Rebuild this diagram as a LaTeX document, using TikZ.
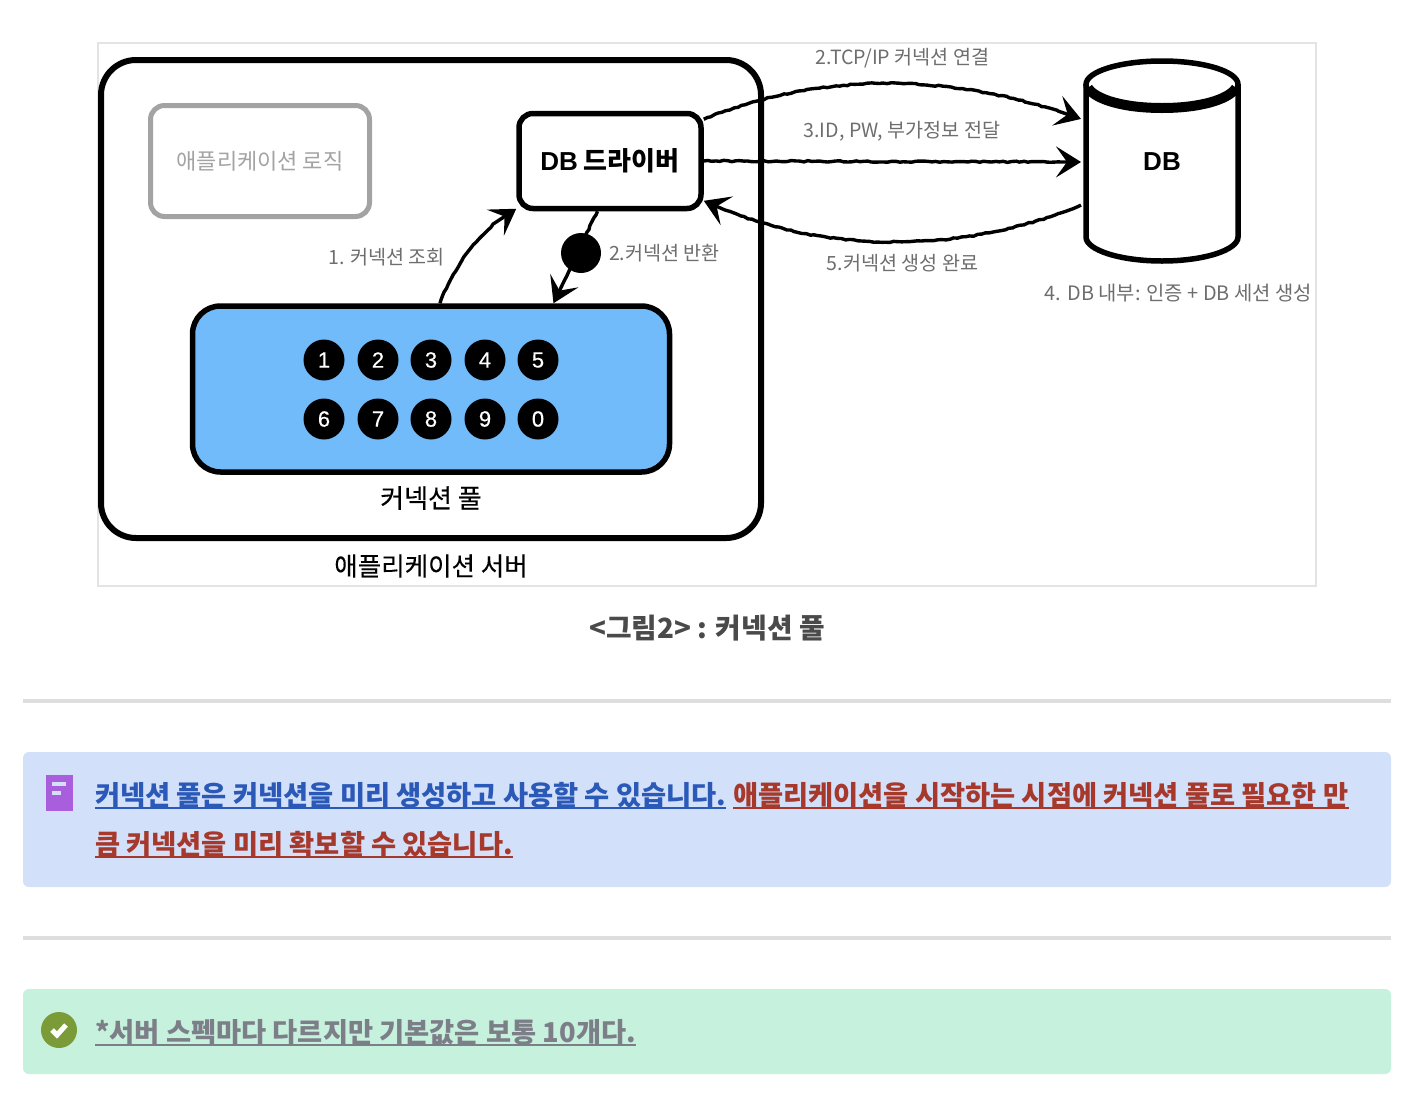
\documentclass[tikz,border=0pt]{standalone}
\usepackage{fontspec}
\setmainfont{Noto Sans CJK KR}
\newfontfamily\latinf{Liberation Sans}
\newfontfamily\numf[FakeBold=0.4]{Liberation Sans}
\newfontfamily\medf[FakeBold=0.25]{Noto Sans CJK KR}
\usetikzlibrary{arrows.meta,decorations.pathmorphing}
\definecolor{framec}{HTML}{E4E4E4}
\definecolor{labelc}{HTML}{6E6E6E}
\definecolor{logicc}{HTML}{A3A3A3}
\definecolor{poolc}{HTML}{72BBFA}
\definecolor{capc}{HTML}{4A4A4A}
\definecolor{rulec}{HTML}{DEDEDE}
\definecolor{notec}{HTML}{D3E0F9}
\definecolor{okc}{HTML}{C6F1DD}
\definecolor{bluec}{HTML}{2B59B8}
\definecolor{redc}{HTML}{A6392C}
\definecolor{grayc}{HTML}{7D7F88}
\definecolor{purplec}{HTML}{A95EDE}
\definecolor{checkc}{HTML}{7A9B38}
\newcommand{\pxfont}[1]{\fontsize{#1}{#1}\selectfont}
\tikzset{
  box/.style={draw, rounded corners=#1, line join=round},
  conn/.style={circle, fill=black, text=white, minimum size=41pt, inner sep=0pt, font=\numf\pxfont{22}},
  lbl/.style={text=labelc, inner sep=0pt, font=\pxfont{19.6}},
  sketch/.style={line width=3.4pt, decorate, decoration={random steps, segment length=4pt, amplitude=.7pt, post length=24pt}},
  barb/.style={-{Stealth[length=25pt, width=31pt, inset=11pt]}},
  rulebar/.style={rulec, line width=4pt},
  note/.style={anchor=base west, inner sep=0pt, font=\pxfont{27.3}\bfseries},
  ul/.style={line width=2.6pt},
}
\begin{document}
\begin{tikzpicture}[x=1pt, y=-1pt]
  \useasboundingbox (0,0) rectangle (1418,1098);
  \fill[white] (0,0) rectangle (1418,1098);
  % image frame
  \draw[framec, line width=2.5pt] (98,43) rectangle (1316,586);

  % server, logic, driver
  \node[box=35pt, line width=6pt, minimum width=660pt, minimum height=478pt] (server) at (431,299) {};
  \node[box=14pt, draw=logicc, line width=5pt, minimum width=219pt, minimum height=111pt, text=logicc, font=\pxfont{22}] (logic) at (260,161) {애플리케이션 로직};
  \node[box=14pt, fill=white, line width=5.5pt, minimum width=182pt, minimum height=95pt, font=\pxfont{26}\bfseries] (driver) at (610,161) {{\latinf DB} 드라이버};

  % pool
  \node[box=28pt, fill=poolc, line width=5.5pt, minimum width=477pt, minimum height=166pt] (pool) at (431,389) {};
  \foreach \n/\x/\y in {1/324/360, 2/378/360, 3/431/360, 4/485/360, 5/538/360, 6/324/419, 7/378/419, 8/431/419, 9/485/419, 0/538/419}
    \node[conn] (c\n) at (\x,\y) {\n};
  \node[font=\medf\pxfont{26}, inner sep=0pt] (poolname) at (431,498) {커넥션 풀};
  \node[font=\medf\pxfont{25.5}, inner sep=0pt] (servername) at (431,566) {애플리케이션 서버};

  % db
  \draw[line width=5.5pt] (1086,84) -- (1086,237) .. controls (1086,250) and (1120,261) .. (1162,261)
    .. controls (1204,261) and (1238,250) .. (1238,237) -- (1238,84);
  \draw[line width=5.5pt] (1162,84.5) ellipse[x radius=76pt, y radius=23.5pt];
  \draw[line width=10pt] (1088,88) .. controls (1096,100) and (1125,108) .. (1162,108)
    .. controls (1199,108) and (1228,100) .. (1236,88);
  \node[minimum width=162pt, minimum height=205pt, inner sep=0pt, outer sep=0pt, font=\latinf\pxfont{26}\bfseries] (db) at (1162,162) {DB};

  % connectors
  \draw[sketch, barb] (driver.24) .. controls (830,68) and (960,75) .. (db.152.6);
  \draw[sketch, barb] (driver.east) -- (db.west);
  \draw[sketch, barb] (db.208) .. controls (960,255) and (820,255) .. (driver.-23);
  \draw[sketch, barb] (pool.84) .. controls (455,262) and (485,225) .. (driver.207);
  \draw[sketch, barb] (driver.-104) -- (pool.35.5);
  \node[circle, fill=black, minimum size=40pt, inner sep=0pt] (token) at (581,253) {};

  % labels
  \node[lbl] (l1) at (386.5,257) {1. 커넥션 조회};
  \node[lbl] (l2) at (664.5,253) {2.커넥션 반환};
  \node[lbl] (l3) at (902.5,58) {2.TCP/IP 커넥션 연결};
  \node[lbl] (l4) at (902,131) {3.ID, PW, 부가정보 전달};
  \node[lbl] (l5) at (902.5,263) {5.커넥션 생성 완료};
  \node[lbl, font=\pxfont{19.9}] (l6) at (1178.5,293) {4. DB 내부: 인증 + DB 세션 생성};

  % caption
  \node[text=capc, inner sep=0pt, font=\pxfont{27.8}\bfseries] (caption) at (707,628) {<그림2> : 커넥션 풀};
  \draw[rulebar] (23,701) -- (1391,701);

  % blue note
  \fill[notec, rounded corners=6pt] (23,752) rectangle (1391,887);
  \fill[purplec] (46,775) rectangle (73,811);
  \fill[notec] (52,782) rectangle (66,786);
  \fill[notec] (52,791) rectangle (61,795);
  \node[note, text=bluec] (n1) at (95,805) {커넥션 풀은 커넥션을 미리 생성하고 사용할 수 있습니다.};
  \node[note, text=redc] (n2) at (733,805) {애플리케이션을 시작하는 시점에 커넥션 풀로 필요한 만};
  \node[note, text=redc] (n3) at (95,854) {큼 커넥션을 미리 확보할 수 있습니다.};
  \draw[ul, bluec] ([yshift=-3pt]n1.base west) -- ([yshift=-3pt]n1.base east);
  \draw[ul, redc] ([yshift=-3pt]n2.base west) -- ([yshift=-3pt]n2.base east);
  \draw[ul, redc] ([yshift=-3pt]n3.base west) -- ([yshift=-3pt]n3.base east);
  \draw[rulebar] (23,938) -- (1391,938);

  % green note
  \fill[okc, rounded corners=6pt] (23,989) rectangle (1391,1074);
  \node[circle, fill=checkc, minimum size=36pt, inner sep=0pt] (check) at (59,1030) {};
  \draw[white, line width=5pt] (52,1030) -- (57,1035) -- (66,1025);
  \node[note, text=grayc] (n4) at (95,1042) {*서버 스펙마다 다르지만 기본값은 보통 10개다.};
  \draw[ul, grayc] ([yshift=-3pt]n4.base west) -- ([yshift=-3pt]n4.base east);
\end{tikzpicture}
\end{document}
